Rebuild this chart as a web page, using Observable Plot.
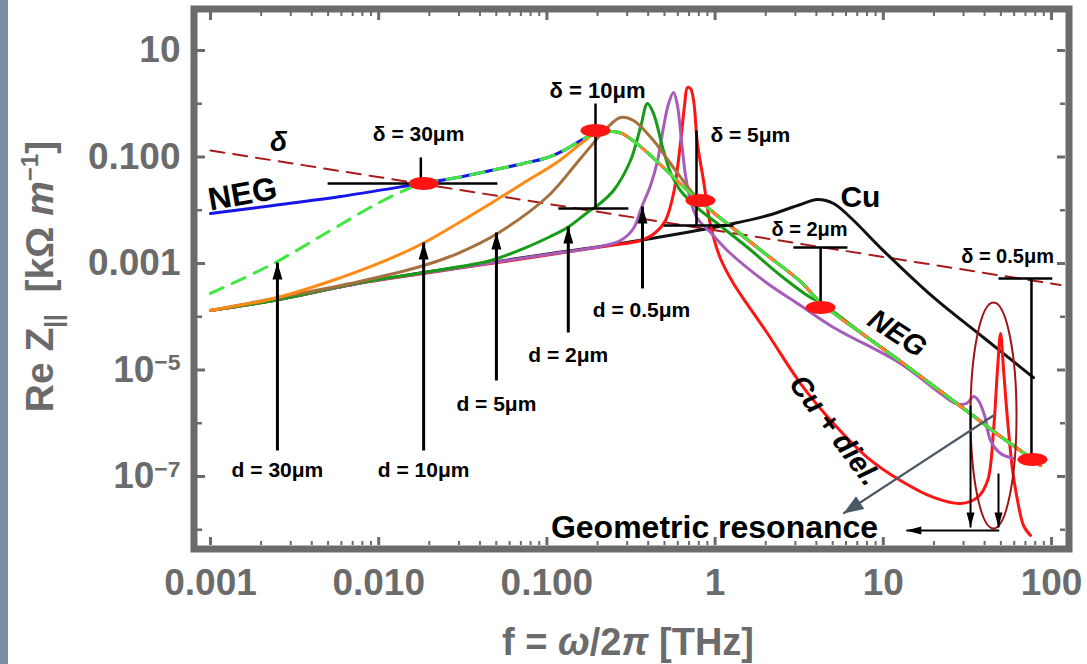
<!DOCTYPE html>
<html><head><meta charset="utf-8">
<script src="https://cdn.jsdelivr.net/npm/d3@7"></script>
<script src="https://cdn.jsdelivr.net/npm/@observablehq/plot@0.6"></script>
<style>
html,body{margin:0;padding:0;background:#fff;}
#wrap{position:relative;width:1087px;height:664px;overflow:hidden;}
#strip{position:absolute;left:0;top:0;width:8px;height:664px;background:#7b8ea2;z-index:2;}
svg{display:block;}
</style></head>
<body><div id="wrap"><div id="strip"></div></div>
<script>
// ---------- data (f in THz, Re Z in kΩ/m) ----------
const xMajorTicks = [0.001, 0.01, 0.1, 1, 10, 100];
const xTickLabels = ["0.001", "0.010", "0.100", "1", "10", "100"];
const yMajorTicks = [10, 0.1, 0.001, 1e-5, 1e-7];
const yTickLabels = ["10", "0.100", "0.001", "10−5", "10−7"];
const yMinorTicks = [1, 0.01, 1e-4, 1e-6, 1e-8];

const deltaLine = [[0.001, 0.1325], [113, 3.95e-4]];

const negPts = [
  [0.001, 8.69e-3], [0.00237, 0.0123], [0.00593, 0.0181], [0.0178, 0.0318],
  [0.0294, 0.0412], [0.0463, 0.0557], [0.0726, 0.0755], [0.101, 0.098],
  [0.129, 0.138], [0.1585, 0.204], [0.1816, 0.254], [0.2085, 0.288], [0.2465, 0.301], [0.281, 0.276],
  [0.360, 0.157], [0.493, 0.0635], [0.685, 0.0235], [0.818, 0.0146], [0.977, 9.08e-3],
  [1.286, 4.54e-3], [2.05, 1.41e-3], [3.22, 4.59e-4], [4.24, 1.85e-4], [8.05, 4.07e-5],
  [12.65, 1.45e-5], [31.7, 1.66e-6], [49.8, 5.63e-7], [62.8, 3.36e-7], [86.1, 1.61e-7]
];
const d30Low = [[0.001, 2.74e-4], [0.00237, 1.0e-3], [0.00516, 4.17e-3], [0.00984, 0.0134], [0.0155, 0.0267]];
const d10Low = [
  [0.001, 1.31e-4], [0.00237, 2.2e-4], [0.0047, 4.21e-4], [0.0117, 1.24e-3], [0.0185, 2.43e-3],
  [0.0294, 5.64e-3], [0.0463, 0.0134], [0.0726, 0.0325], [0.1156, 0.0805], [0.165, 0.195], [0.2, 0.295]
];
const d5Low = [
  [0.001, 1.31e-4], [0.00237, 2.2e-4], [0.00748, 4.5e-4], [0.0185, 9.16e-4], [0.0294, 1.54e-3],
  [0.0508, 3.66e-3], [0.101, 0.0181], [0.1585, 0.0938], [0.229, 0.358], [0.274, 0.552],
  [0.327, 0.485], [0.430, 0.204], [0.543, 0.0755], [0.714, 0.0235]
];
const d2Low = [
  [0.001, 1.31e-4], [0.00237, 2.02e-4], [0.00748, 4.3e-4], [0.0185, 6.78e-4], [0.0463, 1.14e-3],
  [0.0726, 1.91e-3], [0.105, 3.21e-3], [0.1325, 4.74e-3], [0.174, 9.08e-3], [0.2, 0.0123],
  [0.249, 0.0235], [0.314, 0.0859], [0.360, 0.358], [0.396, 1.01], [0.430, 0.657], [0.493, 0.1325],
  [0.543, 0.0512], [0.622, 0.0235], [0.818, 9.9e-3], [0.977, 6.42e-3], [1.56, 2.0e-3], [2.45, 5.96e-4], [3.69, 2.3e-4]
];
const d05Pts = [
  [0.001, 1.31e-4], [0.00237, 2.02e-4], [0.00748, 4.21e-4], [0.0185, 6.6e-4], [0.0463, 1.02e-3],
  [0.1156, 1.58e-3], [0.2085, 2.08e-3], [0.274, 2.7e-3], [0.327, 4.54e-3], [0.365, 0.01127],
  [0.413, 0.0292], [0.455, 0.0859], [0.493, 0.358], [0.529, 1.01], [0.566, 1.63], [0.597, 0.927],
  [0.631, 0.204], [0.667, 0.045], [0.714, 0.0152], [0.785, 7.0e-3], [0.940, 3.82e-3], [1.235, 1.54e-3],
  [2.05, 4.21e-4], [3.22, 1.63e-4], [5.06, 6.3e-5], [12.65, 1.33e-5], [21.9, 3.62e-6], [26.9, 2.35e-6],
  [31.3, 2.35e-6], [34.4, 3.18e-6], [36.8, 2.67e-6], [40.0, 1.4e-6], [43.4, 4.74e-7], [49.8, 2.7e-7], [59.5, 2.18e-7]
];
const cuDielPts = [
  [0.001, 1.31e-4], [0.00237, 2.02e-4], [0.00748, 4.21e-4], [0.0185, 6.5e-4], [0.0463, 1.0e-3],
  [0.1156, 1.54e-3], [0.239, 2.18e-3], [0.360, 2.7e-3], [0.443, 3.82e-3], [0.507, 6.42e-3],
  [0.566, 0.0206], [0.622, 0.179], [0.658, 0.927], [0.685, 2.02], [0.714, 1.93], [0.745, 1.15],
  [0.785, 0.179], [0.853, 0.0362], [0.940, 5.17e-3], [1.076, 1.24e-3], [1.286, 4.21e-4], [2.05, 4.85e-5],
  [3.22, 5.57e-6], [5.06, 9.9e-7], [8.05, 2.27e-7], [12.65, 8.4e-8], [19.9, 4.04e-8], [28.8, 3.11e-8],
  [36.3, 4.04e-8], [41.7, 8.4e-8], [45.2, 7.31e-7], [47.7, 9.8e-6], [49.8, 4.85e-5], [51.9, 9.8e-6],
  [54.8, 1.13e-6], [58.7, 1.3e-7], [62.8, 3.54e-8], [68.2, 1.2e-8], [75.0, 7.8e-9]
];
const cuPts = [
  [0.001, 1.31e-4], [0.00237, 2.02e-4], [0.00748, 4.21e-4], [0.0185, 6.78e-4], [0.0463, 1.04e-3],
  [0.1156, 1.61e-3], [0.274, 2.38e-3], [0.622, 3.66e-3], [1.286, 5.64e-3], [2.05, 7.96e-3],
  [3.22, 0.0128], [4.06, 0.0159], [5.06, 0.0134], [6.38, 7.31e-3], [10.0, 1.75e-3], [19.9, 2.3e-4],
  [39.4, 4.07e-5], [78.2, 7.2e-6]
];

// annotations (data space)
const deltaStems = [[0.0178, 0.098, 0.0318], [0.1945, 1.01, 0.0108], [0.775, 0.315, 5.17e-3], [4.24, 2.0e-3, 1.63e-4], [76.0, 5.23e-4, 2.08e-7]];
const deltaBars = [[0.00497, 0.0508, 0.0318], [0.117, 0.305, 0.0108], [0.493, 1.286, 5.17e-3], [2.92, 6.12, 2.0e-3], [48.4, 101, 5.23e-4]];
const deltaDots = [[0.0185, 0.0318], [0.1945, 0.315], [0.818, 0.0152], [4.24, 1.49e-4], [77.1, 2.08e-7]];
const deltaLabels = ["δ = 30μm", "δ = 10μm", "δ = 5μm", "δ = 2μm", "δ = 0.5μm"];
const deltaLabelPos = [[0.01726, 0.265], [0.2, 1.775], [1.62, 0.254], [3.64, 4.35e-3], [54.8, 1.35e-3]];
const deltaLabelSize = [21, 22, 21, 20, 20];
const dArrows = [[0.0025, 3.08e-7, 1.04e-3], [0.0185, 3.08e-7, 2.48e-3], [0.0501, 6.35e-6, 3.82e-3], [0.134, 5.06e-5, 4.95e-3], [0.370, 3.4e-4, 0.01175]];
const dLabels = ["d = 30μm", "d = 10μm", "d = 5μm", "d = 2μm", "d = 0.5μm"];
const dLabelPos = [[0.0025, 1.3e-7], [0.0185, 1.3e-7], [0.0501, 2.25e-6], [0.134, 1.87e-5], [0.365, 1.31e-4]];
const resDown = [[33.0, 2.15e-6, 1.1e-8], [48.4, 1.14e-7, 1.1e-8]];
const resLeft = [[48.9, 13.7, 9.7e-9]];
const grayArrow = [[45.2, 1.4e-6, 5.79, 2.02e-8]];
const resEllipse = [[45.2, 1.4e-6]];
const textNotes = [
  {t: "δ", f: 2.54e-3, z: 0.195, size: 28, style: "italic", rot: 0},
  {t: "NEG", f: 1.55e-3, z: 0.0198, size: 32, style: "normal", rot: -10},
  {t: "Cu", f: 7.31, z: 0.0173, size: 30, style: "normal", rot: 0},
  {t: "NEG", f: 12.1, z: 4.85e-5, size: 29, style: "italic", rot: 33},
  {t: "Cu + diel.", f: 5.13, z: 7.31e-7, size: 29, style: "italic", rot: 53},
  {t: "Geometric resonance", f: 0.992, z: 1.1e-8, size: 32, style: "normal", rot: 0}
];

// ---------- composed series (reuse the NEG trace where curves merge) ----------
const d30Pts = d30Low.concat(negPts.filter(p => p[0] > 0.016));
const d10Pts = d10Low.concat(negPts.filter(p => p[0] > 0.24));
const d5Pts = d5Low.concat(negPts.filter(p => p[0] > 0.75));
const d2Pts = d2Low.concat(negPts.filter(p => p[0] > 4));

// ---------- layout / style ----------
const FONT = '"Liberation Sans", Arial, Helvetica, sans-serif';
const GRAY = "#6b6b6b";
const W = 1087, H = 664;
const M = {top: 12, right: 22, bottom: 119, left: 197};
const plotW = W - M.left - M.right, plotH = H - M.top - M.bottom;
const xMinorTicks = [];
for (let e = -3; e <= 1; e++) for (let m = 2; m <= 9; m++) xMinorTicks.push(m * Math.pow(10, e));
const xLabelMap = new Map(xMajorTicks.map((v, i) => [v, xTickLabels[i]]));
const yLabelMap = new Map(yMajorTicks.map((v, i) => [v, yTickLabels[i]]));

const ellipse = (rx, ry) => ({draw(c) {
  const k = 0.5523, ox = rx * k, oy = ry * k;
  c.moveTo(-rx, 0);
  c.bezierCurveTo(-rx, -oy, -ox, -ry, 0, -ry);
  c.bezierCurveTo(ox, -ry, rx, -oy, rx, 0);
  c.bezierCurveTo(rx, oy, ox, ry, 0, ry);
  c.bezierCurveTo(-ox, ry, -rx, oy, -rx, 0);
  c.closePath();
}});
const head = (w, l) => ({draw(c) { c.moveTo(0, 0); c.lineTo(-w / 2, l); c.lineTo(w / 2, l); c.closePath(); }});

const curve = (data, stroke, extra = {}) =>
  Plot.line(data, {x: d => d[0], y: d => d[1], stroke, strokeWidth: 3, curve: "catmull-rom", ...extra});

const svg = Plot.plot({
  width: W, height: H,
  marginTop: M.top, marginRight: M.right, marginBottom: M.bottom, marginLeft: M.left,
  x: {type: "log", domain: [8.37e-4, 121.1]},
  y: {type: "log", domain: [5.06e-9, 51.7]},
  style: {fontFamily: FONT, color: GRAY, background: "white", overflow: "visible"},
  marks: [
    // ticks (inward)
    Plot.tickX(xMajorTicks, {x: d => d, stroke: GRAY, strokeWidth: 3, insetTop: plotH - 8}),
    Plot.tickX(xMajorTicks, {x: d => d, stroke: GRAY, strokeWidth: 3, insetBottom: plotH - 8}),
    Plot.tickX(xMinorTicks, {x: d => d, stroke: GRAY, strokeWidth: 2, insetTop: plotH - 4}),
    Plot.tickX(xMinorTicks, {x: d => d, stroke: GRAY, strokeWidth: 2, insetBottom: plotH - 4}),
    Plot.tickY(yMajorTicks, {y: d => d, stroke: GRAY, strokeWidth: 3, insetRight: plotW - 8}),
    Plot.tickY(yMajorTicks, {y: d => d, stroke: GRAY, strokeWidth: 3, insetLeft: plotW - 8}),
    Plot.tickY(yMinorTicks, {y: d => d, stroke: GRAY, strokeWidth: 2.5, insetRight: plotW - 5}),
    Plot.tickY(yMinorTicks, {y: d => d, stroke: GRAY, strokeWidth: 2.5, insetLeft: plotW - 5}),
    Plot.axisX(xMajorTicks, {tickFormat: d => xLabelMap.get(d), tickSize: 0, tickPadding: 23, fontSize: 37, fontWeight: "bold", fill: GRAY, label: null}),
    Plot.axisY(yMajorTicks, {tickFormat: d => yLabelMap.get(d), tickSize: 0, tickPadding: 17, fontSize: 37, fontWeight: "bold", fill: GRAY, label: null}),
    // skin depth line
    curve(deltaLine, "#a81b1b", {strokeWidth: 2, strokeDasharray: "14,9", curve: "linear"}),
    // impedance curves
    curve(cuPts, "#111111"),
    curve(cuDielPts, "#ff1414"),
    curve(d05Pts, "#a85cba"),
    curve(d2Pts, "#179c17"),
    curve(d5Pts, "#a5703d"),
    curve(negPts, "#1616e8"),
    curve(d10Pts, "#ff8a16"),
    curve(d30Pts, "#3fe83f", {strokeDasharray: "14,10"}),
    // skin depth markers
    Plot.link(deltaStems, {x1: d => d[0], x2: d => d[0], y1: d => d[1], y2: d => d[2], stroke: "#000", strokeWidth: 2.5}),
    Plot.link(deltaBars, {x1: d => d[0], x2: d => d[1], y1: d => d[2], y2: d => d[2], stroke: "#000", strokeWidth: 2.5}),
    Plot.dot(deltaDots, {x: d => d[0], y: d => d[1], r: 5, symbol: ellipse(15, 6.5), fill: "#ff1414", stroke: "none"}),
    Plot.text(deltaLabelPos, {x: d => d[0], y: d => d[1], text: (d, i) => deltaLabels[i], fontSize: (d, i) => deltaLabelSize[i], fontWeight: "bold", fill: "#000", ariaLabel: "delta labels"}),
    // thickness arrows
    Plot.link(dArrows, {x1: d => d[0], x2: d => d[0], y1: d => d[1], y2: d => d[2], stroke: "#000", strokeWidth: 3}),
    Plot.dot(dArrows, {x: d => d[0], y: d => d[2], r: 5, symbol: head(10, 17), fill: "#000", stroke: "none"}),
    Plot.text(dLabelPos, {x: d => d[0], y: d => d[1], text: (d, i) => dLabels[i], fontSize: 21, fontWeight: "bold", fill: "#000", ariaLabel: "d labels"}),
    // geometric resonance
    Plot.dot(resEllipse, {x: d => d[0], y: d => d[1], r: 5, symbol: ellipse(23, 113), fill: "none", stroke: "#a01414", strokeWidth: 2}),
    Plot.link(resDown, {x1: d => d[0], x2: d => d[0], y1: d => d[1], y2: d => d[2], stroke: "#000", strokeWidth: 2}),
    Plot.dot(resDown, {x: d => d[0], y: d => d[2], r: 5, symbol: head(8, 15), rotate: 180, fill: "#000", stroke: "none"}),
    Plot.link(resLeft, {x1: d => d[0], x2: d => d[1], y1: d => d[2], y2: d => d[2], stroke: "#000", strokeWidth: 2}),
    Plot.dot(resLeft, {x: d => d[1], y: d => d[2], r: 5, symbol: head(8, 15), rotate: -90, fill: "#000", stroke: "none"}),
    Plot.link(grayArrow, {x1: d => d[0], y1: d => d[1], x2: d => d[2], y2: d => d[3], stroke: "#4a5866", strokeWidth: 2.2}),
    Plot.dot(grayArrow, {x: d => d[2], y: d => d[3], r: 5, symbol: head(15, 20), rotate: -123, fill: "#4a5866", stroke: "none"}),
    // text notes
    ...textNotes.map(n => Plot.text([n], {x: d => d.f, y: d => d.z, text: d => d.t, fontSize: n.size, fontWeight: "bold", fontStyle: n.style, rotate: n.rot, fill: "#000"})),
    // frame
    Plot.frame({stroke: GRAY, strokeWidth: 7, inset: -3.5})
  ]
});

const NS = "http://www.w3.org/2000/svg";
function styleTokens(selector, tokens) {
  const re = new RegExp("(" + tokens.join("|") + ")");
  svg.querySelectorAll(selector).forEach(t => {
    const parts = t.textContent.split(re).filter(p => p.length);
    t.textContent = "";
    for (const p of parts) {
      const ts = document.createElementNS(NS, "tspan");
      ts.textContent = p;
      if (tokens.includes(p)) ts.setAttribute("font-style", "italic");
      t.appendChild(ts);
    }
  });
}
styleTokens('g[aria-label="delta labels"] text', ["δ", "μm"]);
styleTokens('g[aria-label="d labels"] text', ["30μm", "10μm", "μm"]);

// superscript exponents on y tick labels
svg.querySelectorAll('g[aria-label="y-axis tick label"] text').forEach(t => {
  const s = t.textContent, i = s.indexOf("−");
  if (i > 0) {
    t.textContent = s.slice(0, i);
    const ts = document.createElementNS(NS, "tspan");
    ts.setAttribute("dy", "-0.5em");
    ts.setAttribute("font-size", "0.62em");
    ts.textContent = s.slice(i);
    t.appendChild(ts);
  }
});

// axis titles
const s = d3.select(svg);
const cx = M.left + plotW / 2, cy = M.top + plotH / 2;
const xt = s.append("text").attr("x", cx - 3).attr("y", H - 9).attr("text-anchor", "middle")
  .attr("font-family", FONT).attr("font-size", 38).attr("font-weight", "bold").attr("fill", GRAY);
xt.append("tspan").text("f = ");
xt.append("tspan").attr("font-style", "italic").text("ω");
xt.append("tspan").text("/2");
xt.append("tspan").attr("font-style", "italic").text("π");
xt.append("tspan").text(" [THz]");

const yt = s.append("text").attr("transform", `translate(53,${cy - 2}) rotate(-90)`).attr("text-anchor", "middle")
  .attr("font-family", FONT).attr("font-size", 39).attr("font-weight", "bold").attr("fill", GRAY);
yt.append("tspan").text("Re Z");
yt.append("tspan").attr("font-size", 24).attr("dy", 9).text("||");
yt.append("tspan").attr("dy", -9).text("\u00a0\u00a0[kΩ ");
yt.append("tspan").attr("font-style", "italic").text("m");
yt.append("tspan").attr("font-size", 24).attr("dy", -15).text("−1");
yt.append("tspan").attr("dy", 15).text("]");

document.getElementById("wrap").appendChild(svg);
</script>
</body></html>
